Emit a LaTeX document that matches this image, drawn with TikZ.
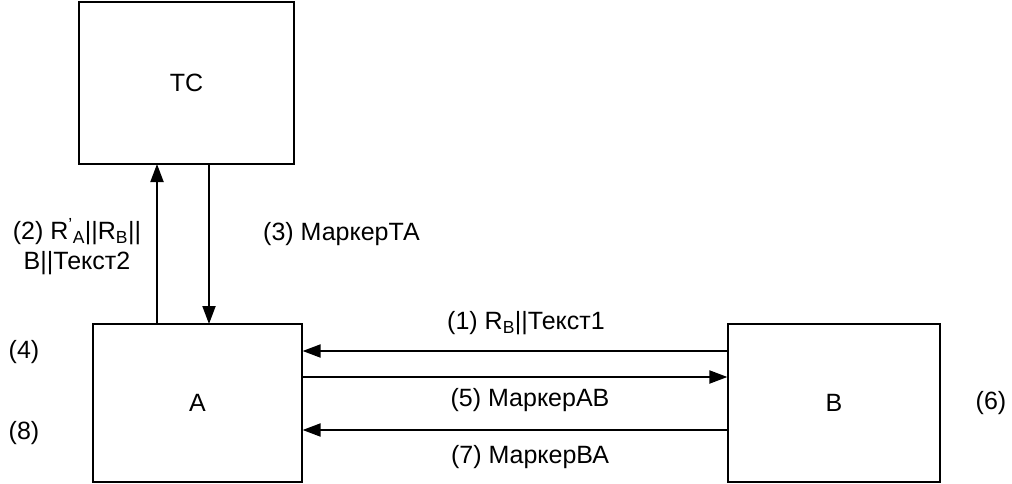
\documentclass[tikz,border=0pt]{standalone}
\usepackage{fontspec}
\setmainfont{Liberation Sans}
\usetikzlibrary{arrows.meta}
\begin{document}
\begin{tikzpicture}[x=1pt,y=-1pt,
  boxs/.style={draw,line width=1.2pt,inner sep=0pt},
  arr/.style={line width=2pt,-{Triangle[length=18pt,width=13pt]}},
  lbl/.style={font=\fontsize{25}{30}\selectfont,inner sep=0pt}]
\useasboundingbox (0,0) rectangle (1012,484);
\node[boxs,minimum width=215pt,minimum height=162pt] (tc) at (186.5,83) {};
\node[boxs,minimum width=209pt,minimum height=158pt] (a) at (197.5,403) {};
\node[boxs,minimum width=212pt,minimum height=158pt] (b) at (834,403) {};
\node[lbl] (tct) at (tc.center) {TC};
\node[lbl] (at) at (a.center) {A};
\node[lbl] (bt) at (b.center) {B};
\coordinate (a1) at (157,324);
\coordinate (t1) at (157,164);
\coordinate (t2) at (209,164);
\coordinate (a2) at (209,324);
\draw[arr] (a1) -- (t1);
\draw[arr] (t2) -- (a2);
\draw[arr] (b.west |- 0,351) -- (a.east |- 0,351);
\draw[arr] (a.east |- 0,377) -- (b.west |- 0,377);
\draw[arr] (b.west |- 0,430) -- (a.east |- 0,430);
\node[lbl,align=center] (l2) at (77,247) {(2) R\textsuperscript{'}\textsubscript{A}||R\textsubscript{B}||\\B||Текст2};
\node[lbl,anchor=west] (l3) at (263,234) {(3) МаркерТА};
\node[lbl] (l1) at (526,323) {(1) R\textsubscript{B}||Текст1};
\node[lbl] (l5) at (530,400) {(5) МаркерАВ};
\node[lbl] (l7) at (530,457) {(7) МаркерВА};
\node[lbl] (l4) at (24,352) {(4)};
\node[lbl] (l8) at (24,433) {(8)};
\node[lbl] (l6) at (991,403) {(6)};
\end{tikzpicture}
\end{document}
